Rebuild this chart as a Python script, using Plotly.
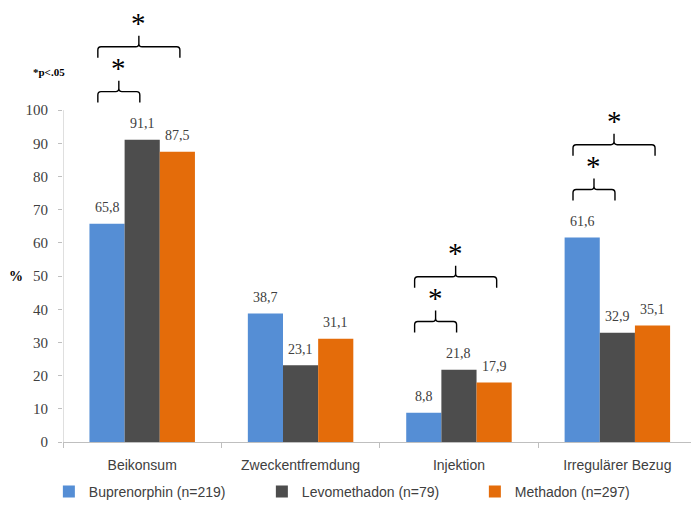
import plotly.graph_objects as go

categories = ["Beikonsum", "Zweckentfremdung", "Injektion", "Irregulärer Bezug"]
series_names = ["Buprenorphin (n=219)", "Levomethadon (n=79)", "Methadon (n=297)"]
buprenorphin = [65.8, 38.7, 8.8, 61.6]
levomethadon = [91.1, 23.1, 21.8, 32.9]
methadon = [87.5, 31.1, 17.9, 35.1]
y_ticks = [0, 10, 20, 30, 40, 50, 60, 70, 80, 90, 100]
# categories with significant differences (Buprenorphin vs. Levomethadon, Buprenorphin vs. Methadon)
significant = [0, 2, 3]

colors = ["#558ED5", "#4D4D4D", "#E46C0A"]
all_series = [buprenorphin, levomethadon, methadon]
xs = list(range(len(categories)))

SERIF = "Liberation Serif, Times New Roman, serif"
SANS = "Liberation Sans, Arial, sans-serif"

fig = go.Figure()
for name, vals, col in zip(series_names, all_series, colors):
    fig.add_trace(go.Bar(x=xs, y=vals, name=name, marker=dict(color=col, line=dict(width=0))))

bargap = 0.334
bw = (1 - bargap) / 3
offsets = [-bw, 0, bw]

annotations = []
for si, vals in enumerate(all_series):
    for i, v in enumerate(vals):
        annotations.append(dict(x=i + offsets[si], y=v, xref="x", yref="y",
                                text=f"{v:.1f}".replace(".", ","), showarrow=False,
                                xanchor="center", yanchor="middle", yshift=16,
                                font=dict(family=SERIF, size=14, color="#404040")))

shapes = []
# y axis line only up to 100
shapes.append(dict(type="line", xref="x", yref="y", x0=-0.5, x1=-0.5, y0=0, y1=100,
                   line=dict(color="#BFBFBF", width=1)))

def bracket(xl, xr, yl, drop=3.3, rise=3.3, r=0.02):
    xm = (xl + xr) / 2
    rr = 1.0
    return (f"M {xl},{yl - drop} L {xl},{yl - rr} Q {xl},{yl} {xl + r},{yl} "
            f"L {xm - r},{yl} Q {xm},{yl} {xm},{yl + rr} L {xm},{yl + rise} "
            f"M {xm},{yl + rr} Q {xm},{yl} {xm + r},{yl} L {xr - r},{yl} "
            f"Q {xr},{yl} {xr},{yl - rr} L {xr},{yl - drop}")

for i in significant:
    inner_y = max(buprenorphin[i], levomethadon[i]) + 14.5
    outer_y = inner_y + 13.5
    xl = i - 0.28
    for xr, yl in [(i - 0.015, inner_y), (i + 0.238, outer_y)]:
        shapes.append(dict(type="path", xref="x", yref="y", path=bracket(xl, xr, yl),
                           line=dict(color="#000000", width=1.4)))
        annotations.append(dict(x=(xl + xr) / 2, y=yl + 3.3, xref="x", yref="y", text="*",
                                showarrow=False, xanchor="center", yanchor="bottom", yshift=-5,
                                font=dict(family=SERIF, size=29, color="#000000")))

annotations.append(dict(x=-0.0756, y=50, xref="paper", yref="y", text="<b>%</b>", showarrow=False,
                        xanchor="center", yanchor="middle",
                        font=dict(family=SERIF, size=14, color="#000000")))
annotations.append(dict(x=-0.0215, y=111.5, xref="paper", yref="y", text="<b>*p<.05</b>", showarrow=False,
                        xanchor="center", yanchor="middle",
                        font=dict(family=SERIF, size=11, color="#000000")))

fig.update_layout(
    width=691, height=519,
    margin=dict(l=62.5, r=0, t=0, b=77, autoexpand=False),
    paper_bgcolor="white", plot_bgcolor="white",
    barmode="group", bargap=bargap, bargroupgap=0,
    showlegend=True,
    legend=dict(orientation="h", xref="paper", yref="paper",
                x=-0.0225, xanchor="left", y=-0.113, yanchor="middle",
                font=dict(family=SANS, size=14, color="#404040"),
                entrywidth=168, entrywidthmode="pixels", itemwidth=30),
    xaxis=dict(range=[-0.5, 3.465], tickvals=xs, ticktext=categories, ticks="",
               showline=True, linecolor="#BFBFBF", linewidth=1, showgrid=False, zeroline=False,
               ticklabelstandoff=10,
               tickfont=dict(family=SANS, size=14, color="#404040"),
               minor=dict(tickvals=[-0.5, 0.5, 1.5, 2.5, 3.5], ticks="outside", ticklen=5,
                          tickcolor="#BFBFBF", showgrid=False)),
    yaxis=dict(range=[0, 133.2], tickvals=y_ticks, ticks="outside", ticklen=4, tickcolor="#BFBFBF",
               showline=False, showgrid=False, zeroline=False, ticklabelstandoff=7,
               tickfont=dict(family=SERIF, size=15, color="#404040")),
    shapes=shapes, annotations=annotations,
)

fig.write_html("out.html", config={"displayModeBar": False},
               post_script="document.body.style.margin='0';")
